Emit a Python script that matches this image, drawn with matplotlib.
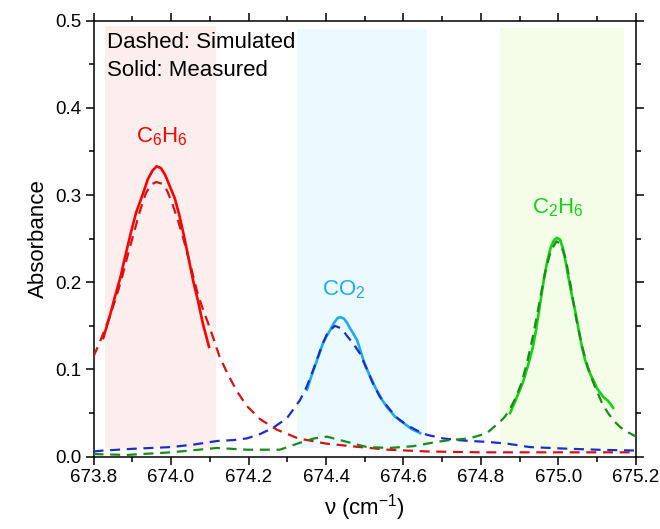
import matplotlib.pyplot as plt
from matplotlib.ticker import MultipleLocator, FormatStrFormatter

plt.rcParams['font.family'] = ['Liberation Sans', 'DejaVu Sans']
plt.rcParams['mathtext.fontset'] = 'custom'
plt.rcParams['mathtext.rm'] = 'Liberation Sans'
plt.rcParams['mathtext.it'] = 'Liberation Sans:italic'

# shaded windows (x start, x end, y bottom, y top)
c6h6_band = [673.830, 674.115, 0.010, 0.494]
co2_band = [674.326, 674.660, 0.010, 0.491]
c2h6_band = [674.849, 675.169, 0.010, 0.492]

# C6H6 simulated (dashed) / measured (solid)
c6h6_sim_x = [673.80, 673.815, 673.83, 673.845, 673.86, 673.875, 673.89, 673.905, 673.92, 673.935,
              673.948, 673.962, 673.977, 673.99, 674.005, 674.02, 674.035, 674.05, 674.067, 674.08,
              674.095, 674.11, 674.125, 674.145, 674.17, 674.196, 674.23, 674.273, 674.328, 674.40,
              674.488, 674.56, 674.661, 674.80, 675.00, 675.20]
c6h6_sim_y = [0.115, 0.130, 0.147, 0.165, 0.185, 0.208, 0.234, 0.258, 0.282, 0.302,
              0.312, 0.315, 0.313, 0.305, 0.288, 0.268, 0.245, 0.220, 0.190, 0.172,
              0.154, 0.135, 0.115, 0.096, 0.075, 0.058, 0.043, 0.031, 0.021, 0.015,
              0.011, 0.008, 0.006, 0.005, 0.005, 0.005]
c6h6_meas_x = [673.825, 673.840, 673.855, 673.869, 673.883, 673.897, 673.910, 673.928, 673.940, 673.952,
               673.963, 673.974, 673.985, 673.997, 674.010, 674.022, 674.034, 674.046, 674.058, 674.070,
               674.082, 674.098]
c6h6_meas_y = [0.136, 0.158, 0.183, 0.205, 0.232, 0.258, 0.280, 0.302, 0.318, 0.328,
               0.333, 0.331, 0.323, 0.310, 0.296, 0.276, 0.252, 0.226, 0.200, 0.178,
               0.153, 0.126]

# CO2
co2_sim_x = [673.80, 673.825, 673.90, 674.00, 674.06, 674.119, 674.16, 674.196, 674.23, 674.263,
             674.299, 674.333, 674.35, 674.37, 674.39, 674.405, 674.423, 674.44, 674.455, 674.47,
             674.488, 674.505, 674.521, 674.54, 674.565, 674.585, 674.609, 674.635, 674.661, 674.702,
             674.74, 674.772, 674.815, 674.867, 674.926, 674.98, 675.03, 675.10, 675.20]
co2_sim_y = [0.006, 0.007, 0.009, 0.011, 0.014, 0.018, 0.019, 0.021, 0.026, 0.033,
             0.044, 0.065, 0.080, 0.103, 0.128, 0.143, 0.150, 0.147, 0.138, 0.130,
             0.118, 0.101, 0.084, 0.068, 0.054, 0.044, 0.036, 0.030, 0.025, 0.021,
             0.019, 0.018, 0.017, 0.015, 0.011, 0.010, 0.009, 0.008, 0.007]
co2_meas_x = [674.351, 674.362, 674.373, 674.385, 674.392, 674.400, 674.408, 674.420, 674.430, 674.438,
              674.447, 674.455, 674.461, 674.472, 674.480, 674.490, 674.500, 674.514, 674.530, 674.545,
              674.557, 674.578, 674.599, 674.620, 674.643]
co2_meas_y = [0.077, 0.092, 0.106, 0.121, 0.130, 0.137, 0.143, 0.153, 0.159, 0.160,
              0.158, 0.153, 0.148, 0.140, 0.134, 0.120, 0.106, 0.092, 0.077, 0.065,
              0.057, 0.046, 0.039, 0.032, 0.027]

# C2H6
c2h6_sim_x = [673.80, 673.886, 674.00, 674.119, 674.196, 674.281, 674.333, 674.370, 674.402,
              674.454, 674.506, 674.565, 674.624, 674.686, 674.72, 674.771, 674.815, 674.849,
              674.862, 674.875, 674.890, 674.905, 674.920, 674.935, 674.950, 674.965, 674.980,
              674.995, 675.005, 675.018, 675.030, 675.045, 675.060, 675.075, 675.087, 675.099,
              675.113, 675.128, 675.143, 675.159, 675.175, 675.192, 675.20]
c2h6_sim_y = [0.003, 0.002, 0.005, 0.010, 0.008, 0.008, 0.016, 0.021, 0.023,
              0.017, 0.011, 0.010, 0.012, 0.017, 0.019, 0.021, 0.027, 0.040,
              0.046, 0.055, 0.068, 0.085, 0.110, 0.140, 0.175, 0.210, 0.236,
              0.247, 0.244, 0.228, 0.200, 0.160, 0.128, 0.104, 0.088, 0.075,
              0.061, 0.050, 0.041, 0.034, 0.029, 0.025, 0.023]
c2h6_meas_x = [674.875, 674.885, 674.897, 674.908, 674.917, 674.926, 674.934, 674.942, 674.950, 674.957,
               674.964, 674.972, 674.980, 674.988, 674.996, 675.004, 675.012, 675.020, 675.028, 675.036,
               675.044, 675.052, 675.060, 675.068, 675.076, 675.085, 675.093, 675.100, 675.108, 675.115,
               675.122, 675.128, 675.135, 675.141]
c2h6_meas_y = [0.050, 0.060, 0.073, 0.085, 0.098, 0.112, 0.126, 0.145, 0.168, 0.188,
               0.208, 0.226, 0.240, 0.248, 0.251, 0.249, 0.238, 0.220, 0.200, 0.182,
               0.165, 0.146, 0.127, 0.112, 0.101, 0.092, 0.085, 0.078, 0.073, 0.069,
               0.066, 0.064, 0.060, 0.056]

fig = plt.figure(figsize=(6.6, 5.29), dpi=100)
ax = fig.add_axes([0.1417, 0.1367, 0.8219, 0.8242])

for band, col in [(c6h6_band, '#fdeeee'), (co2_band, '#eafafe'), (c2h6_band, '#f4fde8')]:
    ax.fill_between([band[0], band[1]], band[2], band[3], color=col, lw=0, zorder=0)

dash = (4.5, 3)
ax.plot(c6h6_meas_x, c6h6_meas_y, color='#ff0000', lw=1.9, zorder=3)
ax.plot(co2_meas_x, co2_meas_y, color='#1eaaf0', lw=1.9, zorder=3)
ax.plot(c2h6_meas_x, c2h6_meas_y, color='#14d214', lw=1.9, zorder=3)
ax.plot(c6h6_sim_x, c6h6_sim_y, color='#d41414', lw=1.6, dashes=dash, zorder=4)
ax.plot(co2_sim_x, co2_sim_y, color='#1a2ec8', lw=1.6, dashes=dash, zorder=4)
ax.plot(c2h6_sim_x, c2h6_sim_y, color='#1a8a1a', lw=1.6, dashes=dash, zorder=4)

ax.text(673.977, 0.367, r'C$_6$H$_6$', color='#ff0000', fontsize=16, ha='center', va='center')
ax.text(674.446, 0.191, r'CO$_2$', color='#1eaaf0', fontsize=16, ha='center', va='center')
ax.text(674.999, 0.285, r'C$_2$H$_6$', color='#14d214', fontsize=16, ha='center', va='center')
ax.text(673.835, 0.475, 'Dashed: Simulated', fontsize=16, ha='left', va='center')
ax.text(673.835, 0.443, 'Solid: Measured', fontsize=16, ha='left', va='center')

ax.set_xlim(673.8, 675.2)
ax.set_ylim(0, 0.5)
ax.xaxis.set_major_locator(MultipleLocator(0.2))
ax.xaxis.set_minor_locator(MultipleLocator(0.1))
ax.yaxis.set_major_locator(MultipleLocator(0.1))
ax.yaxis.set_minor_locator(MultipleLocator(0.05))
ax.xaxis.set_major_formatter(FormatStrFormatter('%.1f'))
ax.yaxis.set_major_formatter(FormatStrFormatter('%.1f'))
ax.tick_params(which='both', direction='out', top=True, right=True, width=1.1, labelsize=13.5)
ax.tick_params(which='major', length=5.5)
ax.tick_params(which='minor', length=3.5)
for s in ax.spines.values():
    s.set_linewidth(1.1)

ax.set_xlabel(r'ν (cm$^{-1}$)', fontsize=16)
ax.set_ylabel('Absorbance', fontsize=16)

fig.savefig('out.png', dpi=100)
